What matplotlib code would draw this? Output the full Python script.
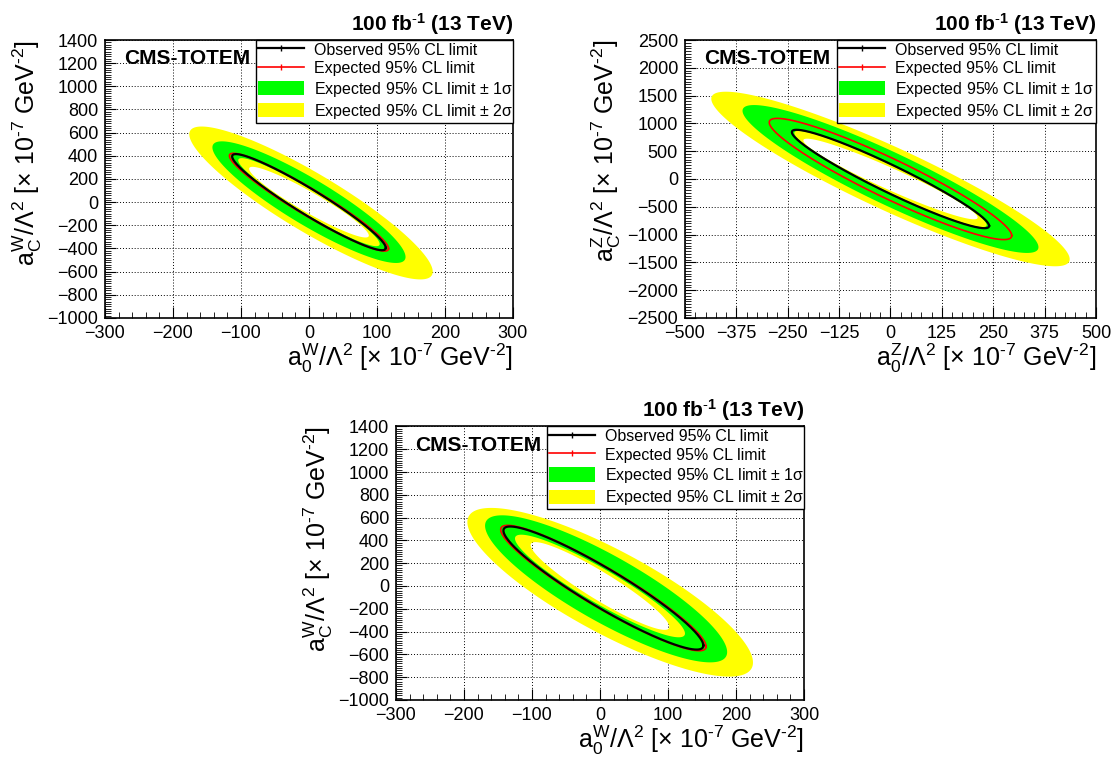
import numpy as np
import matplotlib
matplotlib.use("Agg")
import matplotlib.pyplot as plt
from matplotlib.path import Path
from matplotlib.patches import PathPatch
from matplotlib.ticker import MultipleLocator
from matplotlib.lines import Line2D
from matplotlib.patches import Patch

plt.rcParams['font.family'] = ['Liberation Sans', 'DejaVu Sans']
plt.rcParams['mathtext.fontset'] = 'custom'
plt.rcParams['mathtext.rm'] = 'Liberation Sans'
plt.rcParams['mathtext.it'] = 'Liberation Sans'
plt.rcParams['mathtext.bf'] = 'Liberation Sans:bold'

# contour shapes:
# [centre x, centre y, half extent in x, half extent in y, half height at x = centre]
# panel 1: a0W vs aCW
w1_obs = [0, 0, 113, 415, 128]
w1_exp = [0, 0, 117, 422, 133]
w1_p2s = [3, -7, 179, 660, 290]
w1_p1s = [0, 0, 142, 525, 228]
w1_m1s = [0, 0, 104, 380, 118]
w1_m2s = [0, 0, 88, 305, 100]

# panel 2: a0Z vs aCZ
z_obs = [0, 0, 240, 885, 270]
z_exp = [0, 0, 295, 1090, 390]
z_p2s = [0, 0, 436, 1570, 620]
z_p1s = [0, 0, 360, 1330, 515]
z_m1s = [0, 0, 234, 865, 255]
z_m2s = [0, 0, 212, 725, 210]

# panel 3: a0W vs aCW
w3_obs = [5, -18, 147, 540, 195]
w3_exp = [5, -18, 151, 550, 200]
w3_p2s = [15, -55, 210, 740, 410]
w3_p1s = [9, -25, 178, 645, 330]
w3_m1s = [0, 0, 125, 450, 170]
w3_m2s = [0, 0, 102, 385, 140]

leg_labels = ['Observed 95% CL limit', 'Expected 95% CL limit',
              'Expected 95% CL limit $\\pm$ 1σ', 'Expected 95% CL limit $\\pm$ 2σ']
lumi_text = r'100 fb$^{\mathbf{\text{-}1}}$ (13 TeV)'


def ellipse(p, n=500):
    cx, cy, X, Y, w = p
    t = np.linspace(0, 2 * np.pi, n)
    phi = np.arcsin(w / Y)
    return cx + X * np.cos(t), cy - Y * np.cos(t - phi)


def ring(ax, outer, inner, color):
    xo, yo = ellipse(outer)
    xi, yi = ellipse(inner)
    xi, yi = xi[::-1], yi[::-1]
    verts = np.concatenate([np.column_stack([xo, yo]), np.column_stack([xi, yi])])
    codes = np.full(len(verts), Path.LINETO)
    codes[0] = Path.MOVETO
    codes[len(xo)] = Path.MOVETO
    ax.add_patch(PathPatch(Path(verts, codes), facecolor=color, edgecolor='none', zorder=2))


def panel(ax, obs, exp, p2s, p1s, m1s, m2s, xlim, ylim, xmaj, xmin, ymaj, ymin, sym):
    ring(ax, p2s, m2s, '#ffff00')
    ring(ax, p1s, m1s, '#00ff00')
    x, y = ellipse(exp)
    ax.plot(x, y, color='#ff0000', lw=1.2, zorder=3)
    x, y = ellipse(obs)
    ax.plot(x, y, color='black', lw=1.6, zorder=4)

    ax.set_xlim(xlim)
    ax.set_ylim(ylim)
    ax.xaxis.set_major_locator(MultipleLocator(xmaj))
    ax.xaxis.set_minor_locator(MultipleLocator(xmin))
    ax.yaxis.set_major_locator(MultipleLocator(ymaj))
    ax.yaxis.set_minor_locator(MultipleLocator(ymin))
    ax.tick_params(which='both', direction='in', top=False, right=False, labelsize=13)
    ax.tick_params(which='major', length=8)
    ax.tick_params(which='minor', length=4)
    ax.tick_params(axis='x', pad=5)
    ax.tick_params(axis='y', pad=5)
    ax.grid(True, which='major', color='black', linestyle=(0, (1, 2)), lw=0.7, zorder=1)
    ax.set_axisbelow(True)
    for s in ax.spines.values():
        s.set_linewidth(1.2)
        s.set_zorder(5)

    unit = r' [× 10$^{\text{-}7}$ GeV$^{\text{-}2}$]'
    ax.set_xlabel(r'$\mathregular{a_{0}^{%s}/\Lambda^{2}}$' % sym + unit,
                  fontsize=18, loc='right')
    ax.set_ylabel(r'$\mathregular{a_{C}^{%s}/\Lambda^{2}}$' % sym + unit,
                  fontsize=18, loc='top')
    ax.xaxis.set_label_coords(1.0, -0.085)
    ax.yaxis.set_label_coords(-0.15, 1.0)

    ax.text(1.0, 1.012, lumi_text, transform=ax.transAxes, ha='right', va='bottom',
            fontsize=15, fontweight='bold')
    ax.text(0.047, 0.932, 'CMS-TOTEM', transform=ax.transAxes, ha='left', va='center',
            fontsize=15, fontweight='bold', zorder=6)

    handles = [Line2D([], [], color='black', lw=1.6, marker='|', ms=4, mec='black'),
               Line2D([], [], color='#ff0000', lw=1.2, marker='|', ms=4, mec='#ff0000'),
               Patch(facecolor='#00ff00', edgecolor='none'),
               Patch(facecolor='#ffff00', edgecolor='none')]
    leg = ax.legend(handles, leg_labels, loc='upper left', mode='expand',
                    bbox_to_anchor=(0.37, 0.716, 0.63, 0.284), borderaxespad=0,
                    fontsize=11.5, frameon=True, fancybox=False, framealpha=1,
                    edgecolor='black', handlelength=2.9, handleheight=1.0,
                    handletextpad=0.6, labelspacing=0.2, borderpad=0.12)
    leg.get_frame().set_linewidth(1.0)
    leg.set_zorder(7)


fig = plt.figure(figsize=(11.12, 7.62), dpi=100)
ax1 = fig.add_axes([0.0944, 0.5827, 0.3669, 0.3648])
ax2 = fig.add_axes([0.616, 0.5827, 0.3696, 0.3648])
ax3 = fig.add_axes([0.3561, 0.0814, 0.3669, 0.359])

panel(ax1, w1_obs, w1_exp, w1_p2s, w1_p1s, w1_m1s, w1_m2s,
      (-300, 300), (-1000, 1400), 100, 20, 200, 20, 'W')
panel(ax2, z_obs, z_exp, z_p2s, z_p1s, z_m1s, z_m2s,
      (-500, 500), (-2500, 2500), 125, 25, 500, 50, 'Z')
panel(ax3, w3_obs, w3_exp, w3_p2s, w3_p1s, w3_m1s, w3_m2s,
      (-300, 300), (-1000, 1400), 100, 20, 200, 20, 'W')

fig.savefig('out.png', dpi=100)
